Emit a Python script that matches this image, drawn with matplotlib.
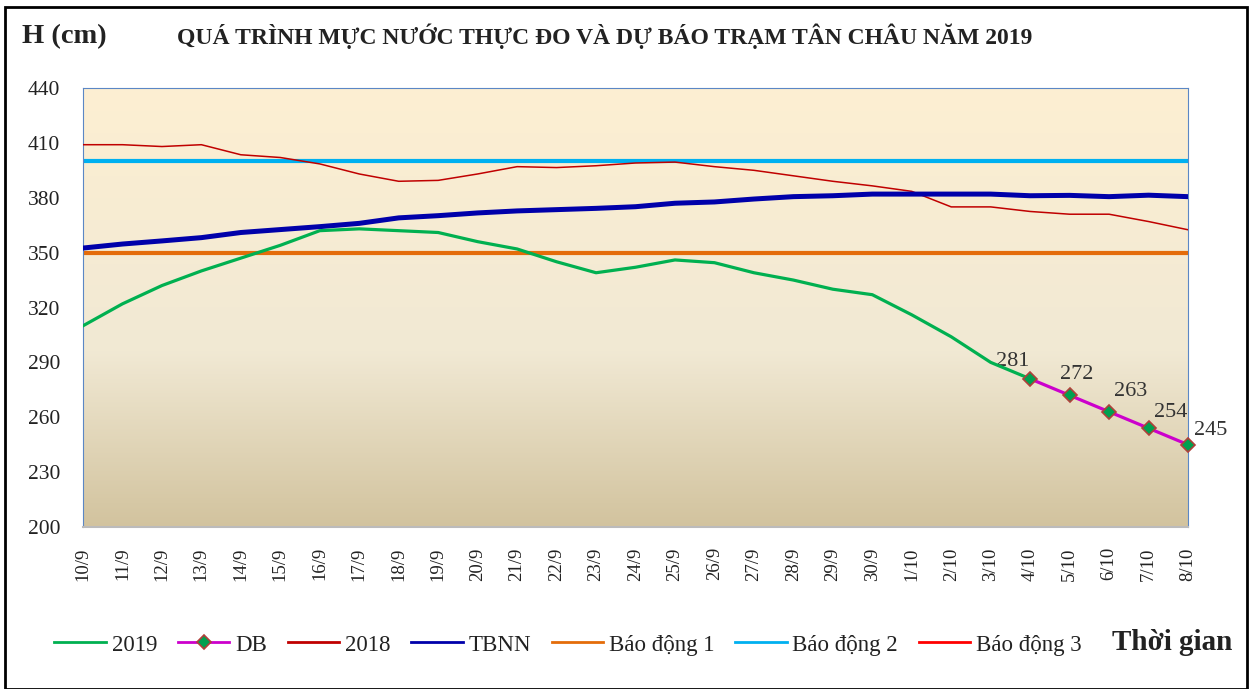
import numpy as np
import matplotlib.pyplot as plt
from matplotlib.colors import LinearSegmentedColormap
from matplotlib.patches import Rectangle

plt.rcParams['font.family'] = ['Liberation Serif', 'DejaVu Serif']

# Data
dates = ['10/9', '11/9', '12/9', '13/9', '14/9', '15/9', '16/9', '17/9', '18/9', '19/9',
         '20/9', '21/9', '22/9', '23/9', '24/9', '25/9', '26/9', '27/9', '28/9', '29/9',
         '30/9', '1/10', '2/10', '3/10', '4/10', '5/10', '6/10', '7/10', '8/10']
h2019 = [310, 322, 332, 340, 347, 354, 362, 363, 362, 361,
         356, 352, 345, 339, 342, 346, 344.5, 339, 335, 330,
         327, 316, 304, 290, 281]
db = [281, 272, 263, 254, 245]
h2018 = [409, 409, 408, 409, 403.5, 402, 398.5, 393, 389, 389.5,
         393, 397, 396.5, 397.5, 399, 399.5, 397, 395, 392, 389,
         386.5, 383.5, 375, 375, 372.5, 371, 371, 367, 362.5]
tbnn = [352.5, 354.7, 356.4, 358.2, 361, 362.6, 364.2, 366, 369, 370.2,
        371.7, 372.8, 373.5, 374.2, 375.1, 377, 377.7, 379.3, 380.6, 381.1,
        382, 382, 382, 382, 381.1, 381.3, 380.6, 381.4, 380.6]
bd1, bd2, bd3 = 350, 400, 450
db_offsets = [(-17, 17), (7, 21), (22, 20), (22, 16), (23, 14)]

x = np.arange(len(dates))
x_db = x[len(h2019) - 1:]

fig = plt.figure(figsize=(12.53, 6.89), dpi=100)
ax = fig.add_axes([83/1253, 1 - 527/689, 1105/1253, 439/689])

# gradient background (light at top, tan at bottom)
cmap = LinearSegmentedColormap.from_list('bg', [(0, '#FDEFD2'), (0.6, '#F1E9D4'), (1, '#D2C39E')])
grad = np.linspace(0, 1, 256).reshape(-1, 1)
ax.imshow(grad, aspect='auto', cmap=cmap, extent=[0, len(dates) - 1, 200, 440],
          origin='upper', zorder=0)

ax.plot(x[:len(h2019)], h2019, color='#00B050', lw=2.3, label='2019', zorder=4)
ax.plot(x_db, db, color='#CC00CC', lw=2.3, marker='D', ms=7, mfc='#00A050',
        mec='#B0403A', mew=1.2, label='DB', zorder=5, clip_on=False)
ax.plot(x, h2018, color='#C00000', lw=1.1, label='2018', zorder=3)
ax.plot(x, tbnn, color='#0000AA', lw=3.6, label='TBNN', zorder=3)
ax.plot(x, [bd1] * len(x), color='#E46C0A', lw=3, label='Báo động 1', zorder=2)
ax.plot(x, [bd2] * len(x), color='#00B0F0', lw=3, label='Báo động 2', zorder=2)
ax.plot(x, [bd3] * len(x), color='#FF0000', lw=1.6, label='Báo động 3', zorder=2)

for xi, v, off in zip(x_db, db, db_offsets):
    ax.annotate(f'{v:d}', (xi, v), xytext=off, textcoords='offset pixels',
                ha='center', va='center', fontsize=16, color='#333333',
                annotation_clip=False)

ax.set_xlim(0, len(dates) - 1)
ax.set_ylim(200, 440)
ax.set_yticks(np.arange(200, 441, 30))
ax.set_xticks(x)
ax.set_xticklabels(dates, rotation=90, fontsize=13.5, color='#222222')
ax.tick_params(axis='y', labelsize=15.5, labelcolor='#222222', length=0, pad=16.5)
ax.tick_params(axis='x', length=0, pad=14.5)
for s in ['left', 'right', 'top']:
    ax.spines[s].set_color('#5B87C5')
ax.spines['bottom'].set_color('#BBBBBB')
ax.spines['bottom'].set_linewidth(1.5)

fig.text(22/1253, 1 - 37/689, 'H (cm)', fontsize=20.5, fontweight='bold', va='center', color='#222222')
fig.text(605/1253, 1 - 36/689, 'QUÁ TRÌNH MỰC NƯỚC THỰC ĐO VÀ DỰ BÁO TRẠM TÂN CHÂU NĂM 2019',
         fontsize=17, fontweight='bold', ha='center', va='center', color='#222222')
fig.text(1172/1253, 1 - 643/689, 'Thời gian', fontsize=21, fontweight='bold',
         ha='center', va='center', color='#222222')

leg = fig.legend(loc='center', bbox_to_anchor=(568/1253, 1 - 645/689), ncol=7, frameon=False,
                 fontsize=16.5, handlelength=2.25, columnspacing=0.9, handletextpad=0.25)
for ln in leg.get_lines():
    ln.set_linewidth(2)
for t in leg.get_texts():
    t.set_color('#222222')

fig.patches.append(Rectangle((5/1253, 0), 1242/1253, 1 - 7/689, transform=fig.transFigure,
                             fill=False, edgecolor='black', lw=2))

fig.savefig('out.png', dpi=100)
